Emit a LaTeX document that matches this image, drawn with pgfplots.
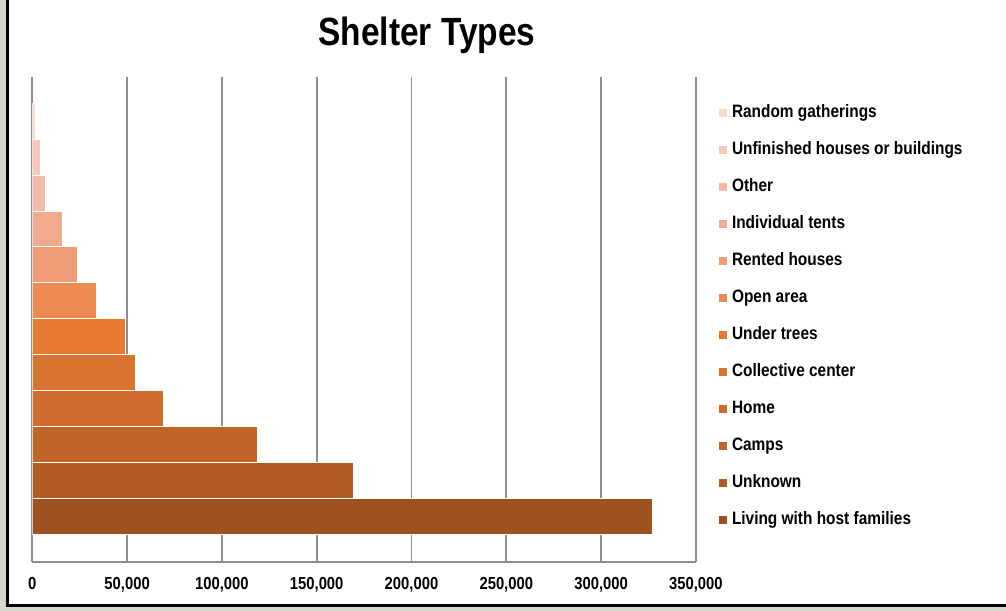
\documentclass[border=0pt]{standalone}
\usepackage{fontspec}
\usepackage{pgfplots}
\pgfplotsset{compat=1.18}
\newfontfamily\narrow{Liberation Sans}[FakeStretch=0.85]
\newfontfamily\legfont{Liberation Sans}[FakeStretch=0.86]
\definecolor{bgc}{HTML}{D6D7C8}
\definecolor{gridc}{HTML}{8E8E8E}
\definecolor{c1}{HTML}{F9D8CF}
\definecolor{c2}{HTML}{F7C8BA}
\definecolor{c3}{HTML}{F4BBA6}
\definecolor{c4}{HTML}{F2AA8F}
\definecolor{c5}{HTML}{F09C76}
\definecolor{c6}{HTML}{EE8B52}
\definecolor{c7}{HTML}{E77A30}
\definecolor{c8}{HTML}{D97430}
\definecolor{c9}{HTML}{CE6D2D}
\definecolor{c10}{HTML}{C06527}
\definecolor{c11}{HTML}{B05C24}
\definecolor{c12}{HTML}{9C511E}
\begin{document}
\begin{tikzpicture}
\useasboundingbox (0,0) rectangle (1006bp,611bp);
\fill[bgc] (0,0) rectangle (1006bp,611bp);
\fill[white] (7.5bp,5.5bp) rectangle (1006bp,611bp);
\draw[black, line width=3bp] (7.5bp,611bp) -- (7.5bp,5.5bp) -- (1006bp,5.5bp);
\node[font=\narrow\bfseries\fontsize{39.5}{44}\selectfont, inner sep=0pt] at (427bp,576bp) {Shelter Types};
\begin{axis}[
  at={(32.3bp,49bp)}, anchor=south west,
  scale only axis, width=663.6bp, height=485bp,
  xmin=0, xmax=350000, ymin=-1.23, ymax=12.27, y dir=reverse,
  axis y line=none, axis x line*=bottom,
  x axis line style={-, draw=gridc, line width=1.6bp},
  xtick={0,50000,100000,150000,200000,250000,300000,350000},
  ytick=\empty,
  major tick length=0pt,
  scaled x ticks=false,
  xticklabel style={/pgf/number format/.cd, fixed, 1000 sep={,}, assume math mode=true},
  tick label style={font=\narrow\bfseries\fontsize{17.5}{20}\selectfont, yshift=-12bp},
  xmajorgrids, grid style={draw=gridc, line width=1.7bp},
  legend style={at={(1.0348,0.942)}, anchor=north west, draw=none, fill=none,
    inner sep=0pt, outer sep=0pt,
    font=\legfont\bfseries\fontsize{18}{20}\selectfont,
    nodes={inner sep=0pt, text height=12.5bp, text depth=3.5bp},
    row sep=21bp,
    /tikz/every odd column/.append style={column sep=5bp}},
  legend cell align=left,
  legend image code/.code={\path[#1, draw=none] (0bp,-4bp) rectangle (8bp,4bp);},
]
\addplot[xbar, bar width=1, bar shift=0pt, fill=c1, draw=white, line width=1bp] coordinates {(1500,0)};
\addlegendentry{Random gatherings}
\addplot[xbar, bar width=1, bar shift=0pt, fill=c2, draw=white, line width=1bp] coordinates {(4500,1)};
\addlegendentry{Unfinished houses or buildings}
\addplot[xbar, bar width=1, bar shift=0pt, fill=c3, draw=white, line width=1bp] coordinates {(6900,2)};
\addlegendentry{Other}
\addplot[xbar, bar width=1, bar shift=0pt, fill=c4, draw=white, line width=1bp] coordinates {(15800,3)};
\addlegendentry{Individual tents}
\addplot[xbar, bar width=1, bar shift=0pt, fill=c5, draw=white, line width=1bp] coordinates {(23600,4)};
\addlegendentry{Rented houses}
\addplot[xbar, bar width=1, bar shift=0pt, fill=c6, draw=white, line width=1bp] coordinates {(34100,5)};
\addlegendentry{Open area}
\addplot[xbar, bar width=1, bar shift=0pt, fill=c7, draw=white, line width=1bp] coordinates {(49000,6)};
\addlegendentry{Under trees}
\addplot[xbar, bar width=1, bar shift=0pt, fill=c8, draw=white, line width=1bp] coordinates {(54300,7)};
\addlegendentry{Collective center}
\addplot[xbar, bar width=1, bar shift=0pt, fill=c9, draw=white, line width=1bp] coordinates {(69300,8)};
\addlegendentry{Home}
\addplot[xbar, bar width=1, bar shift=0pt, fill=c10, draw=white, line width=1bp] coordinates {(119000,9)};
\addlegendentry{Camps}
\addplot[xbar, bar width=1, bar shift=0pt, fill=c11, draw=white, line width=1bp] coordinates {(169300,10)};
\addlegendentry{Unknown}
\addplot[xbar, bar width=1, bar shift=0pt, fill=c12, draw=white, line width=1bp] coordinates {(327000,11)};
\addlegendentry{Living with host families}
\end{axis}
\end{tikzpicture}
\end{document}
